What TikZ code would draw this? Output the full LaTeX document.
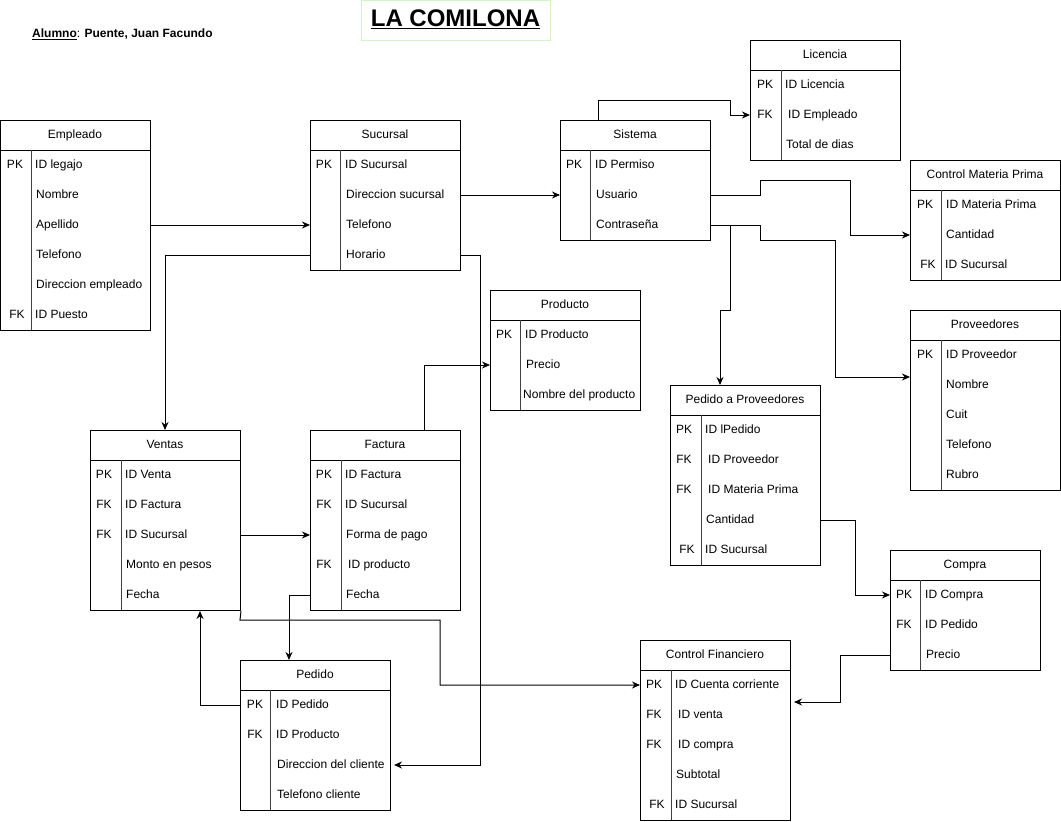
\documentclass[tikz,border=0pt]{standalone}
\usepackage{fontspec}
\setmainfont{Liberation Sans}
\usetikzlibrary{arrows.meta}
\definecolor{titlegreen}{HTML}{D5F5C8}
\tikzset{
  tbl/.style={draw=black, line width=1pt, minimum width=150pt, inner sep=0pt, fill=white},
  hdr/.style={font=\fontsize{12}{14}\selectfont, inner sep=0pt, text height=8.6pt, text depth=2.6pt},
  keytxt/.style={font=\fontsize{12}{14}\selectfont, inner sep=0pt, text height=8.6pt, text depth=2.6pt},
  fldtxt/.style={font=\fontsize{12}{14}\selectfont, inner sep=0pt, anchor=west, text height=8.6pt, text depth=2.6pt},
  divline/.style={draw=black!75, line width=1pt},
  conn/.style={draw=black, line width=1pt, -{Stealth[length=8pt,width=7pt]}},
}
% #1 name, #2 x, #3 y, #4 height, #5 divider offset, #6 title
\newcommand{\ertable}[6]{%
  \node[tbl, anchor=north west, minimum height=#4pt] (#1) at (#2,#3) {};
  \draw[line width=1pt] (#2,#3+30) -- (#2+150,#3+30);
  \draw[divline] (#2+#5,#3+30) -- (#2+#5,#3+#4);
  \node[hdr] (#1-t) at (#2+75,#3+15) {#6};
}
% #1 name, #2 key x, #3 text x, #4 y, #5 key, #6 text
\newcommand{\erfld}[6]{%
  \node[keytxt] (#1-k) at (#2,#4) {#5};
  \node[fldtxt] (#1) at (#3,#4) {#6};
}
\begin{document}
\begin{tikzpicture}[x=1pt,y=-1pt]
\useasboundingbox (0,0) rectangle (1061,822);

% title
\node[draw=titlegreen, line width=1pt, minimum width=189pt, minimum height=40pt, anchor=north west, inner sep=0pt] (titlebox) at (361,0) {};
\node[font=\fontsize{24}{28}\selectfont\bfseries, inner sep=0pt] (title) at (455.5,19) {\underline{LA COMILONA}};
\node[font=\fontsize{12}{14}\selectfont\bfseries, inner sep=0pt, anchor=west] (alumno) at (32,34) {\underline{Alumno}\textmd{:} Puente, Juan Facundo};

% Empleado
\ertable{emp}{0}{120}{210}{31}{Empleado}
\erfld{emp1}{15}{35}{165}{PK}{ID legajo}
\erfld{emp2}{15}{36}{195}{}{Nombre}
\erfld{emp3}{15}{36}{225}{}{Apellido}
\erfld{emp4}{15}{36}{255}{}{Telefono}
\erfld{emp5}{15}{36}{285}{}{Direccion empleado}
\erfld{emp6}{17}{35}{315}{FK}{ID Puesto}

% Sucursal
\ertable{suc}{310}{120}{150}{30}{Sucursal}
\erfld{suc1}{324}{345}{165}{PK}{ID Sucursal}
\erfld{suc2}{324}{346}{195}{}{Direccion sucursal}
\erfld{suc3}{324}{346}{225}{}{Telefono}
\erfld{suc4}{324}{346}{255}{}{Horario}

% Sistema
\ertable{sis}{560}{120}{120}{30}{Sistema}
\erfld{sis1}{574}{595}{165}{PK}{ID Permiso}
\erfld{sis2}{574}{596}{195}{}{Usuario}
\erfld{sis3}{574}{596}{225}{}{Contraseña}

% Licencia
\ertable{lic}{750}{40}{120}{31}{Licencia}
\erfld{lic1}{765}{785}{85}{PK}{ID Licencia}
\erfld{lic2}{765}{788}{115}{FK}{ID Empleado}
\erfld{lic3}{765}{786}{145}{}{Total de dias}

% Control Materia Prima
\ertable{cmp}{910}{160}{120}{31}{Control Materia Prima}
\erfld{cmp1}{925}{946}{205}{PK}{ID Materia Prima}
\erfld{cmp2}{925}{946}{235}{}{Cantidad}
\erfld{cmp3}{928}{945}{265}{FK}{ID Sucursal}

% Proveedores
\ertable{prov}{910}{310}{180}{31}{Proveedores}
\erfld{prov1}{925}{946}{355}{PK}{ID Proveedor}
\erfld{prov2}{925}{946}{385}{}{Nombre}
\erfld{prov3}{925}{946}{415}{}{Cuit}
\erfld{prov4}{925}{946}{445}{}{Telefono}
\erfld{prov5}{925}{946}{475}{}{Rubro}

% Producto
\ertable{prod}{490}{290}{120}{30}{Producto}
\erfld{prod1}{504}{525}{335}{PK}{ID Producto}
\erfld{prod2}{504}{526}{365}{}{Precio}
\erfld{prod3}{504}{523}{395}{}{Nombre del producto}

% Pedido a Proveedores
\ertable{pap}{670}{385}{180}{31}{Pedido a Proveedores}
\erfld{pap1}{684}{705}{430}{PK}{ID lPedido}
\erfld{pap2}{684}{708}{460}{FK}{ID Proveedor}
\erfld{pap3}{684}{708}{490}{FK}{ID Materia Prima}
\erfld{pap4}{684}{706}{520}{}{Cantidad}
\erfld{pap5}{687}{705}{550}{FK}{ID Sucursal}

% Ventas
\ertable{ven}{90}{430}{180}{31}{Ventas}
\erfld{ven1}{104}{125}{475}{PK}{ID Venta}
\erfld{ven2}{104}{125}{505}{FK}{ID Factura}
\erfld{ven3}{104}{125}{535}{FK}{ID Sucursal}
\erfld{ven4}{104}{126}{565}{}{Monto en pesos}
\erfld{ven5}{104}{126}{595}{}{Fecha}

% Factura
\ertable{fac}{310}{430}{180}{31}{Factura}
\erfld{fac1}{324}{345}{475}{PK}{ID Factura}
\erfld{fac2}{324}{345}{505}{FK}{ID Sucursal}
\erfld{fac3}{324}{346}{535}{}{Forma de pago}
\erfld{fac4}{324}{348}{565}{FK}{ID producto}
\erfld{fac5}{324}{346}{595}{}{Fecha}

% Pedido
\ertable{ped}{240}{660}{150}{30}{Pedido}
\erfld{ped1}{255}{276}{705}{PK}{ID Pedido}
\erfld{ped2}{255}{276}{735}{FK}{ID Producto}
\erfld{ped3}{255}{277}{765}{}{Direccion del cliente}
\erfld{ped4}{255}{277}{795}{}{Telefono cliente}

% Compra
\ertable{com}{890}{550}{120}{30}{Compra}
\erfld{com1}{904}{925}{595}{PK}{ID Compra}
\erfld{com2}{904}{925}{625}{FK}{ID Pedido}
\erfld{com3}{904}{926}{655}{}{Precio}

% Control Financiero
\ertable{cf}{640}{640}{180}{31}{Control Financiero}
\erfld{cf1}{654}{675}{685}{PK}{ID Cuenta corriente}
\erfld{cf2}{654}{678}{715}{FK}{ID venta}
\erfld{cf3}{654}{678}{745}{FK}{ID compra}
\erfld{cf4}{654}{676}{775}{}{Subtotal}
\erfld{cf5}{657}{675}{805}{FK}{ID Sucursal}

% connectors
\draw[conn] (emp.east |- emp3) -- (suc.west |- emp3);
\draw[conn] (suc.east |- suc2) -- (sis.west |- suc2);
\draw[conn] (sis.north -| 598,0) -- (598,100) -- (730,100) -- (730,115) -- (lic.west |- lic2);
\draw[conn] (sis.east |- sis2) -- (760,195) -- (760,180) -- (850,180) -- (850,235) -- (cmp.west |- cmp2);
\draw[conn] (sis.east |- sis3) -- (760,225) -- (760,240) -- (835,240) -- (835,377) -- (prov.west |- 0,377);
\draw[conn] (730,225) -- (730,310) -- (720,310) -- (pap.north -| 720,0);
\draw[conn] (suc.west |- suc4) -- (165,255) -- (ven.north -| 165,0);
\draw[conn] (suc.east |- suc4) -- (480,255) -- (480,765) -- ([xshift=3pt]ped.east |- ped3);
\draw[conn] (fac.north -| 424,0) -- (424,365) -- (prod.west |- prod2);
\draw[conn] (ven.east |- ven3) -- (fac.west |- ven3);
\draw[conn] (fac.west |- fac5) -- (289,595) -- (ped.north -| 289,0);
\draw[conn] (ped.west |- ped1) -- (200,705) -- (ven.south -| 200,0);
\draw[conn] (ven.south east) -- (240,620) -- (440,620) -- (440,685) -- (cf.west |- cf1);
\draw[conn] (pap.east |- pap4) -- (855,520) -- (855,595) -- (com.west |- com1);
\draw[conn] (com.west |- com3) -- (840,655) -- (840,702) -- ([xshift=3pt]cf.east |- 0,702);
\end{tikzpicture}
\end{document}
